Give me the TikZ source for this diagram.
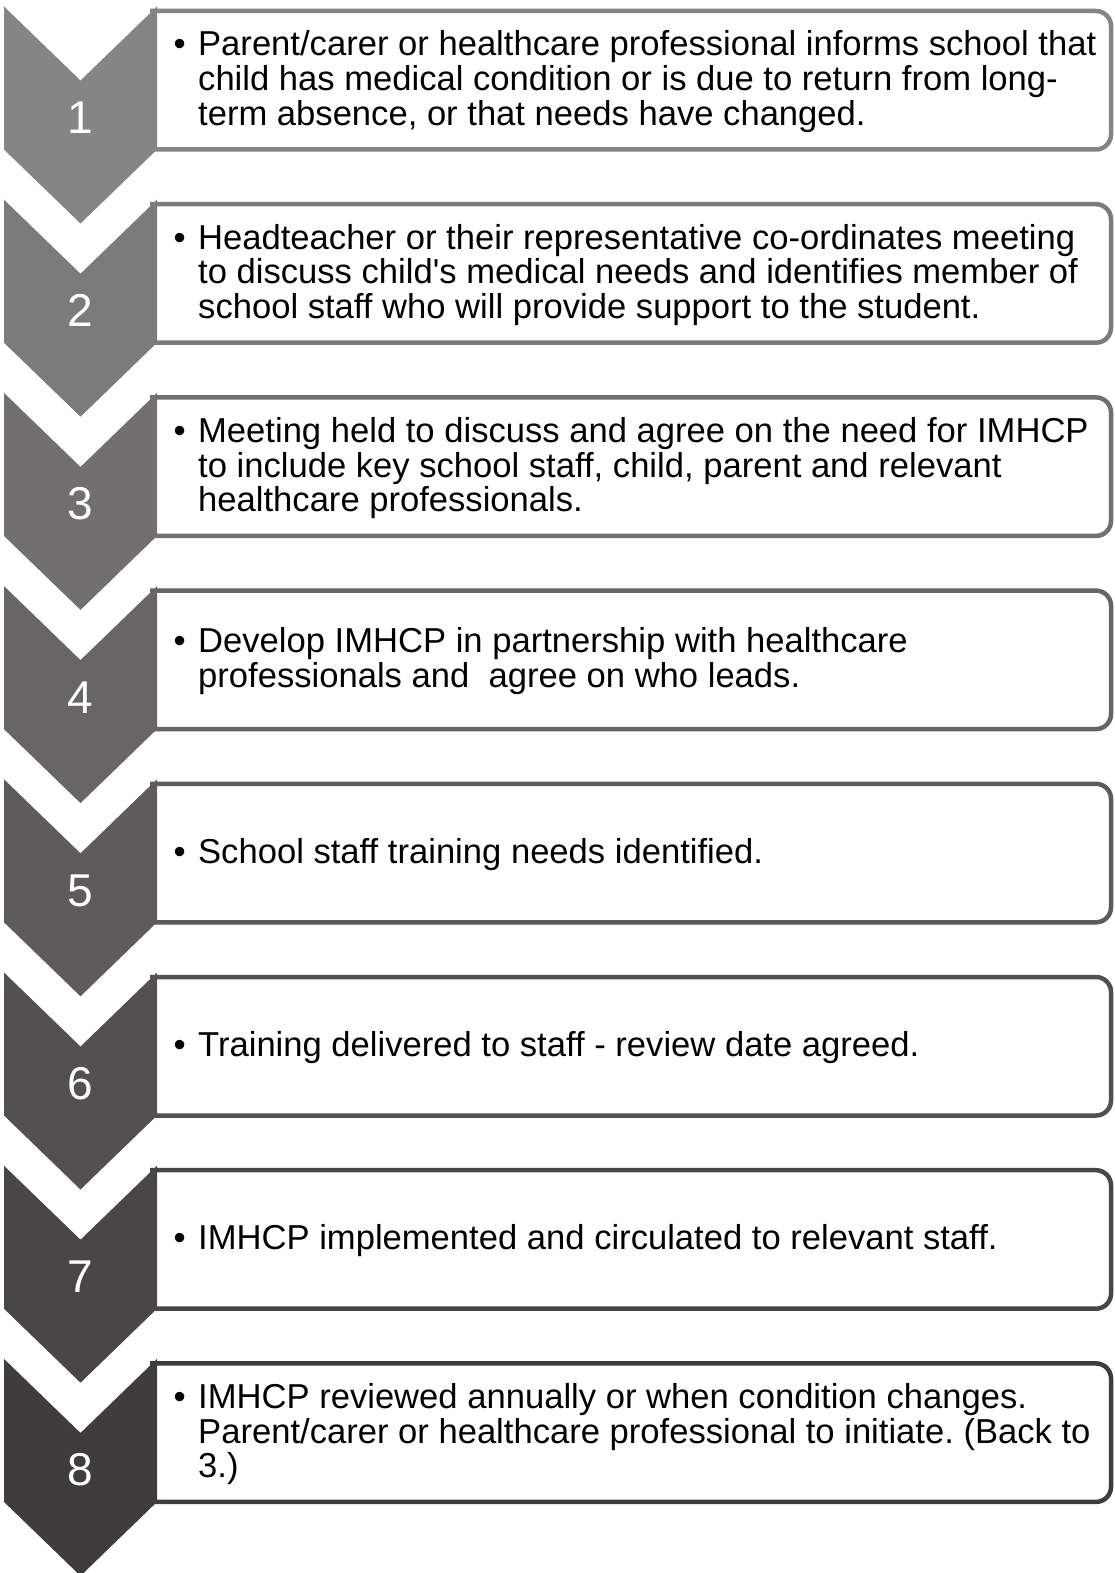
\documentclass[tikz,border=0pt]{standalone}
\usepackage{fontspec}
\setmainfont{Liberation Sans}[Ligatures=TeXOff]
\frenchspacing
\definecolor{c1}{RGB}{133,133,133}
\definecolor{c2}{RGB}{123,123,122}
\definecolor{c3}{RGB}{113,112,111}
\definecolor{c4}{RGB}{103,102,100}
\definecolor{c5}{RGB}{93,92,89}
\definecolor{c6}{RGB}{83,81,78}
\definecolor{c7}{RGB}{73,71,68}
\definecolor{c8}{RGB}{63,61,57}
\tikzset{
  boxline/.style={line width=4.5pt, rounded corners=15pt, fill=white},
  numtxt/.style={anchor=base, inner sep=0pt, text=white, font=\fontsize{46}{46}\selectfont},
  bodytxt/.style={anchor=base west, inner sep=0pt, font=\fontsize{34.6}{34.6}\selectfont}
}
\newcommand{\flowstep}[3]{%
  \pgfmathsetmacro{\sT}{6.5+193.2*(#1-1)}%
  \pgfmathsetmacro{\sB}{\sT+49.5+(3-#2)*17.3}%
  \draw[boxline, draw=c#1] (150,\sT+4.5) -- (1111,\sT+4.5) -- (1111,\sT+143) -- (150,\sT+143);
  \fill[c#1] (4,\sT) -- (80.5,\sT+74) -- (157,\sT) -- (157,\sT+143) -- (80.5,\sT+217) -- (4,\sT+143) -- cycle;
  \node[numtxt] (n#1) at (80.5,\sT+127) {#1};
  \node[bodytxt] (t#1) at (173.5,\sB) {\makebox[24.5pt][l]{\textbullet}\parbox[t]{935pt}{\raggedright #3}};
}
\begin{document}
\begin{tikzpicture}[x=1pt,y=-1pt]
\useasboundingbox (0,0) rectangle (1115,1573);
\flowstep{1}{3}{Parent/carer or healthcare professional informs school that\\child has medical condition or is due to return from long-\\term absence, or that needs have changed.}
\flowstep{2}{3}{Headteacher or their representative co-ordinates meeting\\to discuss child's medical needs and identifies member of\\school staff who will provide support to the student.}
\flowstep{3}{3}{Meeting held to discuss and agree on the need for IMHCP\\to include key school staff, child, parent and relevant\\healthcare professionals.}
\flowstep{4}{2}{Develop IMHCP in partnership with healthcare\\professionals and~ agree on who leads.}
\flowstep{5}{1}{School staff training needs identified.}
\flowstep{6}{1}{Training delivered to staff - review date agreed.}
\flowstep{7}{1}{IMHCP implemented and circulated to relevant staff.}
\flowstep{8}{3}{IMHCP reviewed annually or when condition changes.\\Parent/carer or healthcare professional to initiate. (Back to\\3.)}
\end{tikzpicture}
\end{document}
